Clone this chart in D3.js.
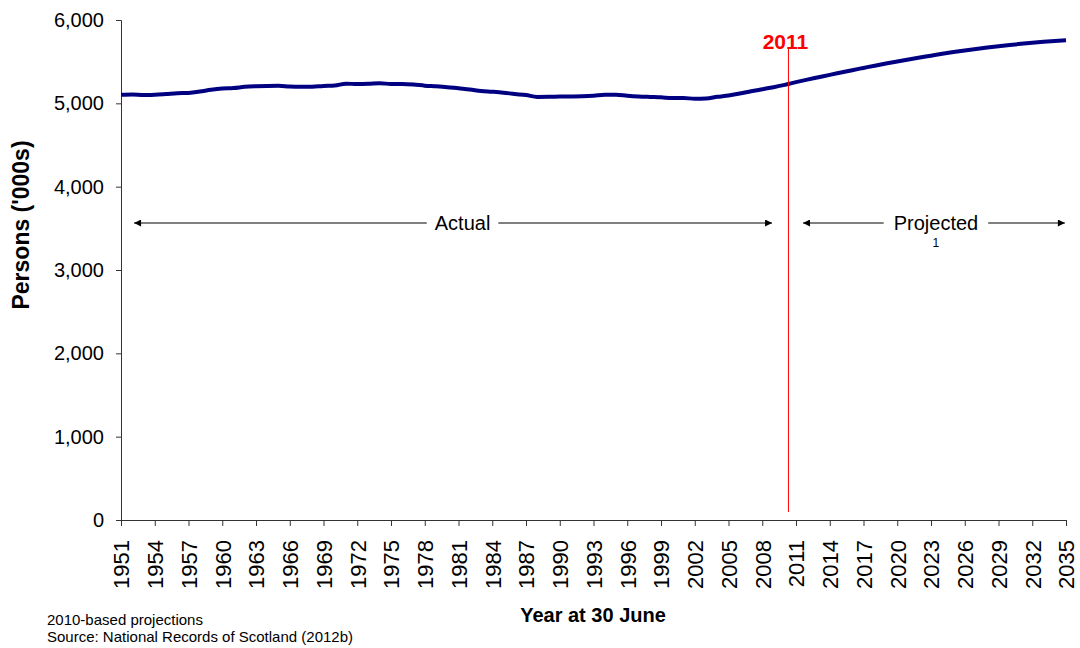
<!DOCTYPE html>
<html><head><meta charset="utf-8">
<script src="https://cdn.jsdelivr.net/npm/d3@7"></script>
<style>
body{margin:0;background:#fff}
svg{display:block;font-family:Arial,"Liberation Sans",Helvetica,sans-serif}
</style>
</head><body>
<svg id="chart" width="1080" height="648"></svg>
<script>
// ---- data ----
const actualYears = [1951,1952,1953,1954,1955,1956,1957,1958,1959,1960,1961,1962,1963,1964,1965,1966,1967,1968,1969,1970,1971,1972,1973,1974,1975,1976,1977,1978,1979,1980,1981,1982,1983,1984,1985,1986,1987,1988,1989,1990,1991,1992,1993,1994,1995,1996,1997,1998,1999,2000,2001,2002,2003,2004,2005,2006,2007,2008,2009,2010];
const actualValues = [5103,5107,5100,5104,5112,5121,5125,5141,5163,5178,5184,5198,5205,5209,5210,5201,5198,5200,5209,5214,5236,5231,5234,5241,5232,5233,5226,5212,5204,5194,5180,5167,5148,5139,5128,5112,5099,5077,5078,5081,5083,5086,5092,5102,5104,5092,5083,5077,5072,5063,5064,5055,5057,5078,5095,5117,5144,5169,5194,5222];
const projectedYears = [2011,2012,2013,2014,2015,2016,2017,2018,2019,2020,2021,2022,2023,2024,2025,2026,2027,2028,2029,2030,2031,2032,2033,2034,2035];
const projectedValues = [5254,5284,5313,5342,5370,5398,5425,5452,5478,5503,5527,5550,5572,5594,5615,5634,5652,5669,5685,5700,5714,5727,5739,5749,5757];
const xTickYears = [1951,1954,1957,1960,1963,1966,1969,1972,1975,1978,1981,1984,1987,1990,1993,1996,1999,2002,2005,2008,2011,2014,2017,2020,2023,2026,2029,2032,2035];
const yTickValues = [0,1000,2000,3000,4000,5000,6000];
const markerYear = 2010.33;   // red "2011" divider
const markerLabel = "2011";
const actualSpan = [1952.16, 2008.87, 1981.36];     // arrow start, end, label centre (years)
const projectedSpan = [2011.62, 2034.9, 2023.44];
const yTitle = "Persons ('000s)";
const xTitle = "Year at 30 June";
const notes = ["2010-based projections", "Source: National Records of Scotland (2012b)"];

// ---- chart ----
const svg = d3.select("#chart");
const x = d3.scaleLinear().domain([1951, 2035]).range([121, 1066]);
const y = d3.scaleLinear().domain([0, 6000]).range([520, 20]);

const series = actualYears.map((yr,i)=>({year:yr, value:actualValues[i]}))
  .concat(projectedYears.map((yr,i)=>({year:yr, value:projectedValues[i]})));

// y axis
const yAxis = svg.append("g").attr("transform", `translate(${x(1951)},0)`)
  .call(d3.axisLeft(y).tickValues(yTickValues).tickFormat(d3.format(",")).tickSize(5).tickPadding(12));
yAxis.selectAll("path,line").attr("stroke", "#333");
yAxis.selectAll("text").attr("font-size", 20).attr("fill", "#000").attr("font-family", "Arial,'Liberation Sans',sans-serif");

// x axis
const xAxis = svg.append("g").attr("transform", `translate(0,${y(0)})`)
  .call(d3.axisBottom(x).tickValues(xTickYears).tickFormat(d3.format("d")).tickSize(6).tickSizeOuter(0));
xAxis.selectAll("path,line").attr("stroke", "#333");
xAxis.selectAll("text")
  .attr("font-size", 22).attr("fill", "#000").attr("font-family", "Arial,'Liberation Sans',sans-serif")
  .attr("transform", "rotate(-90)")
  .attr("x", -20).attr("y", 0).attr("dy", "0.36em")
  .style("text-anchor", "end");

// line
svg.append("path").datum(series)
  .attr("fill", "none").attr("stroke", "#000080").attr("stroke-width", 4).attr("stroke-linejoin", "round")
  .attr("d", d3.line().x(d => x(d.year)).y(d => y(d.value)).curve(d3.curveMonotoneX));

// red divider
svg.append("line").attr("x1", x(markerYear)).attr("x2", x(markerYear))
  .attr("y1", 49).attr("y2", 512).attr("stroke", "#ff0000").attr("stroke-width", 1);
svg.append("text").attr("x", x(markerYear) - 3).attr("y", 49).attr("text-anchor", "middle")
  .attr("font-size", 21).attr("font-weight", "bold").attr("fill", "#ff0000").text(markerLabel);

// arrows
const defs = svg.append("defs");
function marker(id, orient) {
  defs.append("marker").attr("id", id).attr("viewBox", "0 0 10 10").attr("refX", 10).attr("refY", 5)
    .attr("markerWidth", 8).attr("markerHeight", 7).attr("markerUnits", "userSpaceOnUse").attr("orient", orient)
    .append("path").attr("d", "M0,0L10,5L0,10Z").attr("fill", "#000");
}
marker("arrowEnd", "auto");
marker("arrowStart", "auto-start-reverse");

const arrowY = 223;
function spanArrow(span, label, pad) {
  const cx = x(span[2]);
  const t = svg.append("text").attr("x", cx).attr("y", arrowY + 7).attr("text-anchor", "middle")
    .attr("font-size", 20).attr("fill", "#000").text(label);
  const w = t.node().getComputedTextLength();
  svg.append("line").attr("x1", x(span[0])).attr("x2", cx - w/2 - pad).attr("y1", arrowY).attr("y2", arrowY)
    .attr("stroke", "#000").attr("stroke-width", 1).attr("marker-start", "url(#arrowStart)");
  svg.append("line").attr("x1", cx + w/2 + pad).attr("x2", x(span[1])).attr("y1", arrowY).attr("y2", arrowY)
    .attr("stroke", "#000").attr("stroke-width", 1).attr("marker-end", "url(#arrowEnd)");
}
spanArrow(actualSpan, "Actual", 8);
spanArrow(projectedSpan, "Projected", 10);
svg.append("text").attr("x", x(projectedSpan[2])).attr("y", 247).attr("text-anchor", "middle")
  .attr("font-size", 12).attr("fill", "#000").text("1");

// titles
svg.append("text").attr("transform", "translate(29,225) rotate(-90)").attr("text-anchor", "middle")
  .attr("font-size", 23).attr("font-weight", "bold").attr("fill", "#000").text(yTitle);
svg.append("text").attr("x", 593).attr("y", 622).attr("text-anchor", "middle")
  .attr("font-size", 20).attr("font-weight", "bold").attr("fill", "#000").text(xTitle);

// notes
svg.selectAll("text.note").data(notes).join("text").attr("class", "note")
  .attr("x", 47).attr("y", (d,i) => 625 + i*17).attr("font-size", 15).attr("fill", "#000").text(d => d);
</script>
</body></html>
